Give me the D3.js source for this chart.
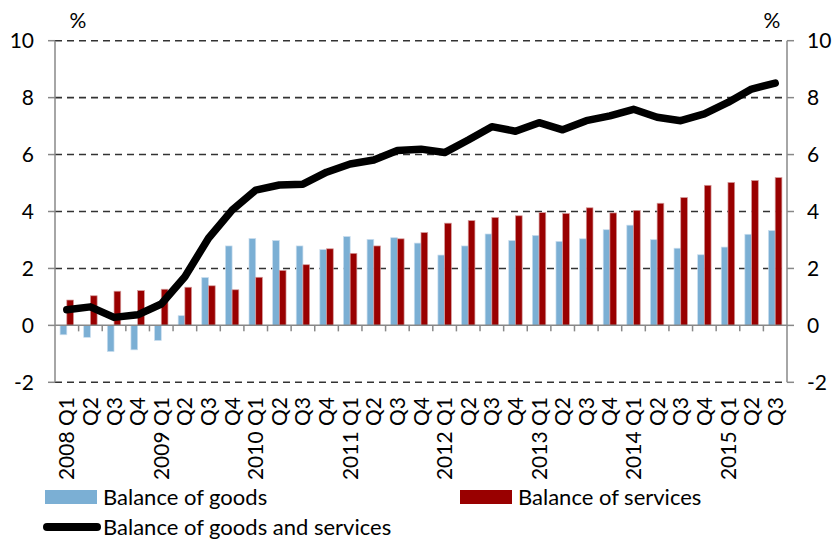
<!DOCTYPE html>
<html>
<head>
<meta charset="utf-8">
<script src="https://cdn.jsdelivr.net/npm/d3@7"></script>
<style>
  html, body { margin: 0; padding: 0; background: #fff; }
  svg { display: block; font-family: Lato, "Open Sans", sans-serif; }
</style>
</head>
<body>
<svg id="chart" width="834" height="541"></svg>
<script>
const categories = ["2008 Q1","Q2","Q3","Q4","2009 Q1","Q2","Q3","Q4","2010 Q1","Q2","Q3","Q4",
  "2011 Q1","Q2","Q3","Q4","2012 Q1","Q2","Q3","Q4","2013 Q1","Q2","Q3","Q4",
  "2014 Q1","Q2","Q3","Q4","2015 Q1","Q2","Q3"];
const goods = [-0.33,-0.42,-0.92,-0.86,-0.53,0.34,1.68,2.79,3.05,2.98,2.79,2.66,3.12,3.02,3.08,2.89,
  2.47,2.79,3.21,2.98,3.16,2.95,3.04,3.36,3.52,3.01,2.71,2.48,2.75,3.20,3.33];
const services = [0.89,1.04,1.20,1.22,1.27,1.34,1.39,1.25,1.69,1.93,2.13,2.69,2.53,2.79,3.04,3.26,
  3.59,3.68,3.79,3.85,3.96,3.93,4.13,3.95,4.04,4.29,4.49,4.92,5.02,5.09,5.19];
const total = [0.55,0.65,0.28,0.37,0.75,1.71,3.06,4.05,4.75,4.93,4.96,5.38,5.67,5.81,6.14,6.19,
  6.07,6.51,6.98,6.82,7.12,6.87,7.19,7.36,7.59,7.31,7.19,7.43,7.83,8.30,8.51];
const yTicks = [-2,0,2,4,6,8,10];
const seriesNames = ["Balance of goods","Balance of services","Balance of goods and services"];

const colors = { goods: "#7BAFD4", services: "#990000", total: "#000000" };
const L = 55, R = 787, T = 40.7, B = 382.3;
const svg = d3.select("#chart");
const idx = d3.range(categories.length);

const x = d3.scaleBand().domain(idx).range([L, R]).padding(0);
const x1 = d3.scaleBand().domain(["goods","services"]).range([0, x.bandwidth()]).paddingInner(0).paddingOuter(0.76);
const y = d3.scaleLinear().domain([-2, 10]).range([B, T]);

// gridlines
svg.append("g").selectAll("line").data(yTicks.filter(d => d !== 0)).join("line")
  .attr("x1", L).attr("x2", R).attr("y1", d => y(d)).attr("y2", d => y(d))
  .attr("stroke", "#333").attr("stroke-width", 1.6).attr("stroke-dasharray", "7,5");

// bars
const data = idx.map(i => ({ i, goods: goods[i], services: services[i] }));
const bars = svg.append("g");
["goods","services"].forEach(k => {
  bars.selectAll("rect." + k).data(data).join("rect").attr("class", k)
    .attr("x", d => x(d.i) + x1(k))
    .attr("width", x1.bandwidth())
    .attr("y", d => y(Math.max(0, d[k])))
    .attr("height", d => Math.abs(y(d[k]) - y(0)))
    .attr("fill", colors[k])
    .attr("stroke", k === "goods" ? "#C9DDEE" : "#D49A9A")
    .attr("stroke-width", 0.7);
});

// axes
const axisColor = "#888";
svg.append("line").attr("x1", L).attr("x2", L).attr("y1", T).attr("y2", B).attr("stroke", axisColor).attr("stroke-width", 1.5);
svg.append("line").attr("x1", R).attr("x2", R).attr("y1", T).attr("y2", B).attr("stroke", axisColor).attr("stroke-width", 1.5);
svg.append("line").attr("x1", L).attr("x2", R).attr("y1", y(0)).attr("y2", y(0)).attr("stroke", axisColor).attr("stroke-width", 1.5);

// y ticks
svg.append("g").selectAll("line").data(yTicks).join("line")
  .attr("x1", L - 7).attr("x2", L).attr("y1", d => y(d)).attr("y2", d => y(d))
  .attr("stroke", axisColor).attr("stroke-width", 1.5);
svg.append("g").selectAll("line").data(yTicks).join("line")
  .attr("x1", R).attr("x2", R + 7).attr("y1", d => y(d)).attr("y2", d => y(d))
  .attr("stroke", axisColor).attr("stroke-width", 1.5);

// category ticks at boundaries
svg.append("g").selectAll("line").data(idx.slice(1)).join("line")
  .attr("x1", d => x(d)).attr("x2", d => x(d)).attr("y1", y(0)).attr("y2", y(0) + 6)
  .attr("stroke", axisColor).attr("stroke-width", 1.5);

// y labels
const fs = 21;
svg.append("g").selectAll("text").data(yTicks).join("text")
  .attr("x", 34).attr("y", d => y(d)).attr("dy", "0.36em").attr("text-anchor", "end")
  .attr("font-size", fs).attr("fill", "#000").text(d => d);
svg.append("g").selectAll("text").data(yTicks).join("text")
  .attr("x", 807).attr("y", d => y(d)).attr("dy", "0.36em").attr("text-anchor", "start")
  .attr("font-size", fs).attr("fill", "#000").text(d => d);
svg.append("text").attr("x", 78).attr("y", 20).attr("dy", "0.36em").attr("text-anchor", "middle")
  .attr("font-size", fs).text("%");
svg.append("text").attr("x", 772).attr("y", 20).attr("dy", "0.36em").attr("text-anchor", "middle")
  .attr("font-size", fs).text("%");

// x labels
svg.append("g").selectAll("text").data(idx).join("text")
  .attr("transform", i => `translate(${x(i) + x.bandwidth() / 2},397) rotate(-90)`)
  .attr("text-anchor", "end").attr("dy", "0.36em")
  .attr("font-size", fs).attr("fill", "#000")
  .text(i => categories[i]);

// total line
const line = d3.line().x((d, i) => x(i) + x.bandwidth() / 2).y(d => y(d));
svg.append("path").datum(total).attr("d", line)
  .attr("fill", "none").attr("stroke", colors.total).attr("stroke-width", 7.5)
  .attr("stroke-linejoin", "round").attr("stroke-linecap", "round");

// legend
const lg = svg.append("g").attr("font-size", 22);
lg.append("rect").attr("x", 45).attr("y", 490).attr("width", 52).attr("height", 14).attr("fill", colors.goods);
lg.append("text").attr("x", 103).attr("y", 497).attr("dy", "0.36em").text(seriesNames[0]);
lg.append("rect").attr("x", 460).attr("y", 490).attr("width", 52).attr("height", 14).attr("fill", colors.services);
lg.append("text").attr("x", 518).attr("y", 497).attr("dy", "0.36em").text(seriesNames[1]);
lg.append("line").attr("x1", 47).attr("x2", 97).attr("y1", 527).attr("y2", 527)
  .attr("stroke", colors.total).attr("stroke-width", 8).attr("stroke-linecap", "round");
lg.append("text").attr("x", 103).attr("y", 527).attr("dy", "0.36em").text(seriesNames[2]);
</script>
</body>
</html>
